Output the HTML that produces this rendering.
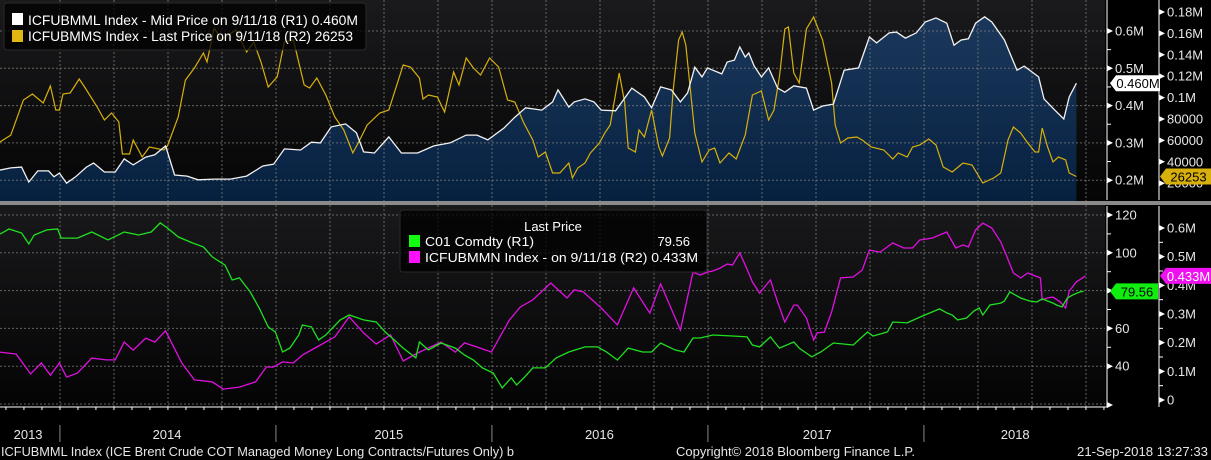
<!DOCTYPE html>
<html><head><meta charset="utf-8"><style>
html,body{margin:0;padding:0;background:#000;}
svg{display:block;font-family:"Liberation Sans Narrow","Liberation Sans",sans-serif;}
</style></head><body>
<svg id="chart" width="1211" height="460" viewBox="0 0 1211 460" xmlns="http://www.w3.org/2000/svg">
<defs>
<linearGradient id="bgTop" x1="0" y1="0" x2="0" y2="1"><stop offset="0" stop-color="#1a1a1c"/><stop offset="1" stop-color="#050506"/></linearGradient>
<linearGradient id="bgBot" x1="0" y1="0" x2="0" y2="1"><stop offset="0" stop-color="#19191b"/><stop offset="1" stop-color="#040405"/></linearGradient>
<linearGradient id="fillTop" x1="0" y1="0" x2="0" y2="1"><stop offset="0" stop-color="#1b385c"/><stop offset="1" stop-color="#06203f"/></linearGradient>
</defs>
<rect x="0" y="0" width="1105" height="201" fill="url(#bgTop)"/>
<rect x="0" y="205" width="1105" height="202" fill="url(#bgBot)"/>
<g id="topArea"></g>
<g id="grid"></g>
<g id="series"></g>
<rect x="0" y="201" width="1211" height="4" fill="#8a8a8a"/>
<g id="axes"></g>
<g id="legendTop">
<rect x="4" y="3" width="362" height="47" rx="3" fill="#000" fill-opacity="0.75" stroke="#2a2a2a"/>
<rect x="12" y="13" width="11" height="12" fill="#ffffff"/>
<text x="28" y="25" font-size="13.5" fill="#ffffff" textLength="330" lengthAdjust="spacingAndGlyphs">ICFUBMML Index - Mid Price on 9/11/18 (R1)   0.460M</text>
<rect x="12" y="30" width="11" height="12" fill="#e0b80f"/>
<text x="28" y="41" font-size="13.5" fill="#ffffff" textLength="325" lengthAdjust="spacingAndGlyphs">ICFUBMMS Index - Last Price on 9/11/18 (R2) 26253</text>
</g>
<g id="legendBot">
<rect x="400" y="210" width="307" height="62" rx="3" fill="#000" fill-opacity="0.75" stroke="#2a2a2a"/>
<text x="553" y="231" font-size="13" fill="#ffffff" text-anchor="middle">Last Price</text>
<rect x="409" y="235" width="11" height="12" fill="#10ff10"/>
<text x="425" y="246" font-size="13" fill="#ffffff" textLength="109" lengthAdjust="spacingAndGlyphs">C01 Comdty  (R1)</text>
<text x="690" y="246" font-size="13" fill="#ffffff" text-anchor="end">79.56</text>
<rect x="409" y="251" width="11" height="12" fill="#ff10ff"/>
<text x="425" y="262" font-size="13" fill="#ffffff" textLength="273" lengthAdjust="spacingAndGlyphs">ICFUBMMN Index -   on 9/11/18  (R2) 0.433M</text>
</g>
<g id="footer"></g>
</svg>
<script>
// ---- data (x = months since 21-Sep-2013) ----
const mlMonths=[0,.6,1.2,1.6,2.1,2.7,3.0,3.3,3.7,4.2,4.8,5.2,5.8,6.4,6.9,7.4,8.1,8.6,9.2,9.7,10.4,11.0,11.9,12.8,13.7,14.6,15.2,15.8,16.7,17.3,17.8,18.4,19.2,19.8,20.2,20.8,21.6,22.3,23.2,24.1,25.0,25.9,26.5,27.1,28.0,28.6,29.2,30.1,30.7,31.0,31.6,31.9,32.5,33.0,33.4,34.2,35.1,35.8,36.2,36.7,37.3,37.8,38.2,38.6,39.0,39.3,40.1,40.4,40.8,41.1,41.4,41.6,41.9,42.3,42.7,43.2,43.6,44.1,44.8,45.2,45.7,46.3,46.9,47.7,48.3,48.7,49.4,49.8,50.3,50.9,51.4,52.0,52.6,53.0,53.4,53.8,54.2,54.7,55.1,55.8,56.5,56.9,57.7,58.0,58.6,59.1,59.4,59.8];
const mlValues=[.227,.233,.235,.195,.225,.225,.209,.219,.192,.209,.235,.246,.222,.222,.257,.241,.262,.268,.292,.214,.211,.201,.203,.203,.211,.238,.243,.284,.281,.302,.300,.343,.351,.327,.276,.273,.316,.273,.273,.292,.300,.321,.321,.308,.340,.369,.394,.388,.410,.442,.396,.410,.418,.410,.388,.386,.447,.423,.394,.450,.442,.410,.434,.503,.477,.501,.485,.517,.522,.557,.530,.541,.506,.477,.501,.447,.436,.453,.447,.388,.399,.404,.495,.501,.584,.568,.595,.597,.581,.595,.624,.635,.621,.562,.576,.579,.621,.638,.624,.576,.495,.506,.477,.418,.388,.364,.423,.460];
const msMonths=[0,.6,1.3,1.8,2.4,2.8,3.1,3.3,3.5,3.9,4.4,4.7,5.4,5.8,6.2,6.6,6.8,7.2,7.4,7.9,8.3,9.1,9.3,9.9,10.3,10.8,11.3,11.5,11.9,12.3,13.1,13.7,14.1,14.5,14.9,15.4,15.8,16.3,16.9,17.2,17.6,18.1,18.6,19.1,19.6,19.9,20.4,21.1,21.6,22.4,22.8,23.3,23.5,23.8,24.3,24.7,25.2,25.5,25.9,26.3,26.7,27.2,27.7,28.2,28.6,29.1,29.6,29.9,30.3,30.7,31.1,31.6,31.8,32.1,32.5,32.8,33.3,33.6,33.9,34.4,34.7,34.9,35.3,35.5,35.8,36.2,36.6,36.8,37.2,37.4,37.7,37.9,38.1,38.6,39.0,39.4,39.7,40.0,40.5,40.9,41.4,41.8,42.3,42.7,43.0,43.3,43.6,43.8,44.1,44.4,44.8,45.2,45.7,46.2,46.4,46.7,47.1,47.6,47.9,48.4,49.1,49.6,49.9,50.4,50.7,51.1,51.6,52.0,52.4,52.9,53.5,54.0,54.6,55.2,55.6,56.0,56.3,56.7,57.1,57.5,57.7,57.9,58.2,58.5,58.8,59.2,59.4,59.8];
const msValues=[58.5,65,97.8,103.4,95,110.8,88.4,88.4,103.4,104.3,117.4,109.9,91.2,79.1,85.6,77.2,47.3,47.3,60.4,44.5,53.8,51,54.8,81.9,116.4,127.7,141.7,133.3,165,153.8,163.2,142.6,152,133.3,109.9,119.3,152,153.8,111.8,109,118.3,102.4,81.9,69.7,48.2,57.6,74.4,85.6,88.4,130.5,128.6,118.3,98.7,102.4,100.6,86.5,123.9,111.8,137,127.7,121.1,137,128.6,97.8,95.9,76.3,60.4,44.5,49.2,29.5,29.5,38.9,24.9,34.2,38.9,48.2,57.6,66.9,74.4,123,95.9,52.9,49.2,69.7,63.2,88.4,53.8,45.4,62.2,107.1,153.8,161.3,149.2,66.9,39.8,51,52.9,38.9,48.2,42.6,65,102.4,106.2,79.1,88.4,119.3,164.1,166,123,113.6,164.1,175.3,153.8,113.6,74.4,57.6,62.2,63.2,60.4,53.8,51,42.6,48.2,44.5,53.8,55.7,61.3,55.7,35.1,30.5,38.9,37,20.2,24.9,29.5,60.4,72.5,66.9,57.6,49.2,49.2,71.6,53.8,39.8,44.5,41.7,29.5,26.253];
const co1Months=[0,.5,1.2,1.6,1.9,2.6,3.2,3.4,4.3,5.1,6.0,6.9,7.7,8.4,8.9,9.3,9.9,10.7,11.3,11.8,12.5,12.9,13.3,13.9,14.4,14.9,15.3,15.7,16.1,16.6,16.8,17.3,17.7,18.1,18.9,19.4,20.2,20.9,21.4,21.9,22.4,23.1,23.3,23.8,24.5,25.3,25.8,26.3,26.8,27.4,27.9,28.4,28.7,29.1,29.6,30.3,30.9,31.6,32.5,33.2,33.7,34.3,34.9,35.7,36.2,36.7,37.5,38.0,38.5,38.9,39.6,40.7,41.5,41.8,42.2,42.8,43.3,44.1,44.4,45.1,45.6,46.3,47.4,48.2,48.5,49.3,49.6,50.4,51.1,52.2,52.6,52.9,53.2,53.7,54.1,54.4,54.6,55.0,55.6,55.8,56.1,56.4,56.7,57.2,57.6,57.9,58.5,58.7,59.0,59.3,59.6,60.0,60.2];
const co1Values=[109.9,112.6,110.5,104.7,109.4,112.1,112.6,107.8,107.8,111,106.8,111,109.4,111,115.8,113.1,108.4,105.2,103.1,97.8,93.5,85.6,86.7,79.3,70.8,60.8,58.1,47.5,49.6,56.5,61.8,60.8,53.9,56.5,64.5,67.1,64.5,63.4,58.1,53.9,49.6,44.4,52.8,48.6,52.3,49.6,45.9,43.3,39.1,36.4,28.5,33.8,30.1,33.8,39.1,39.1,44.4,47.5,50.2,50.2,47.5,43.3,49.6,47.5,47.5,52.3,48.6,47.5,54.9,54.9,56.5,56,55.5,51.2,50.2,55.5,49.6,52.8,49.6,44.9,47.5,52.3,51.2,58.1,56,58.1,63.4,62.9,66,70.3,68.2,67.1,64.5,65.5,69.2,70.8,67.1,72.4,73.4,74.5,79.3,77.7,76.1,74.5,74,75.6,73.4,72.4,71.3,76.1,77.7,79.3,79.56];
const mmnMonths=[0,.9,1.7,2.3,2.8,3.3,3.7,4.3,5.1,5.9,6.4,6.9,7.4,8.1,8.6,9.2,10.1,10.8,11.8,12.4,13.3,14.2,14.8,15.2,15.7,16.3,16.8,17.6,18.6,19.4,20.2,20.9,21.7,22.4,23.2,24.5,25.3,25.8,26.5,27.3,28.3,28.9,29.6,30.6,31.5,31.9,32.4,33.4,34.3,35.2,36.1,36.7,37.8,38.5,38.9,39.3,39.6,40.0,40.4,40.7,41.1,41.4,41.8,42.2,42.8,43.2,43.6,44.1,44.3,44.8,45.2,45.4,45.8,46.2,46.7,47.4,47.9,48.3,48.9,49.6,50.2,50.7,51.1,51.8,52.6,53.1,53.5,53.8,54.2,54.6,55.1,55.6,55.9,56.3,56.7,57.1,57.5,57.8,57.9,58.2,58.5,58.9,59.2,59.4,59.8,60.3];
const mmnValues=[.167,.160,.091,.129,.087,.129,.080,.094,.146,.140,.140,.202,.174,.216,.202,.241,.129,.070,.063,.038,.045,.063,.115,.115,.133,.129,.157,.185,.220,.290,.234,.195,.227,.136,.164,.202,.167,.199,.185,.167,.279,.324,.349,.408,.356,.384,.377,.321,.262,.391,.303,.405,.244,.446,.436,.446,.450,.460,.474,.471,.513,.471,.412,.373,.419,.342,.272,.331,.331,.286,.209,.234,.237,.307,.426,.429,.453,.523,.516,.548,.530,.530,.558,.565,.586,.530,.541,.534,.593,.617,.600,.551,.506,.443,.426,.443,.433,.426,.349,.356,.359,.342,.321,.380,.412,.433];
const topLeftTicks=[0.6,0.5,0.4,0.3,0.2];
const topLeftLabels=["0.6M","0.5M","0.4M","0.3M","0.2M"];
const topRightTicks=[180,160,140,120,100,80,60,40,20];
const topRightLabels=["0.18M","0.16M","0.14M","0.12M","0.1M","80000","60000","40000","20000"];
const botLeftTicks=[120,100,80,60,40];
const botLeftLabels=["120","100","80","60","40"];
const botRightTicks=[0.6,0.5,0.4,0.3,0.2,0.1,0];
const botRightLabels=["0.6M","0.5M","0.4M","0.3M","0.2M","0.1M","0"];
const yearLabels=["2013","2014","2015","2016","2017","2018"];
const yearCenters=[1.56,9.28,21.6,33.3,45.4,56.4];
const yearBounds=[3.33,15.33,27.33,39.33,51.33];

// ---- scales ----
const X=m=>m*18;
const yTL=v=>31+(0.6-v)*373;
const yTR=k=>12+(180-k)*1.07;
const yBL=v=>215+(120-v)*1.89;
const yBR=v=>400-v*286.7;
const NS="http://www.w3.org/2000/svg";
function mk(tag,attrs,parent){const e=document.createElementNS(NS,tag);for(const k in attrs)e.setAttribute(k,attrs[k]);parent.appendChild(e);return e;}
function pts(ms,vs,fy){return ms.map((m,i)=>X(m).toFixed(1)+","+fy(vs[i]).toFixed(1)).join(" ");}

const grid=document.getElementById('grid');
const series=document.getElementById('series');
const axes=document.getElementById('axes');
const topArea=document.getElementById('topArea');
const footer=document.getElementById('footer');

const ap=pts(mlMonths,mlValues,yTL);
const area=mk('polygon',{points:X(mlMonths[0])+",201 "+ap+" "+X(mlMonths[mlMonths.length-1])+",201",fill:"url(#fillTop)"},topArea);



for(let q=0;q<20;q++){const x=60+q*54;if(x>1100)break;
 const g1=mk('line',{x1:x,y1:0,x2:x,y2:201,stroke:"#7a7a7a","stroke-dasharray":"2,2","stroke-width":1,opacity:0.8},grid);
 
 
 const g2=mk('line',{x1:x,y1:205,x2:x,y2:407,stroke:"#7a7a7a","stroke-dasharray":"2,2","stroke-width":1,opacity:0.8},grid);
 
 }
topLeftTicks.forEach(v=>{const g=mk('line',{x1:0,y1:yTL(v),x2:1105,y2:yTL(v),stroke:"#7a7a7a","stroke-dasharray":"2,2",opacity:0.8},grid);
 
 });
[120,100,80,60,40,20].forEach(v=>{const g=mk('line',{x1:0,y1:yBL(v),x2:1105,y2:yBL(v),stroke:"#7a7a7a","stroke-dasharray":"2,2",opacity:0.8},grid);
 
 });

const lMS=mk('polyline',{points:pts(msMonths,msValues,yTR),fill:"none",stroke:"#d8b00c","stroke-width":1.2},series);


const lML=mk('polyline',{points:ap,fill:"none",stroke:"#f2f2f2","stroke-width":1.3},series);


const lMN=mk('polyline',{points:pts(mmnMonths,mmnValues,yBR),fill:"none",stroke:"#e010e0","stroke-width":1.3},series);


const lCO=mk('polyline',{points:pts(co1Months,co1Values,yBL),fill:"none",stroke:"#20e020","stroke-width":1.3},series);



function axisLine(x,y1,y2,name){const l=mk('line',{x1:x,y1:y1,x2:x,y2:y2,stroke:"#fff","stroke-width":1},axes);
 
 }
axisLine(1107,0,200,'top-left-value-axis');
axisLine(1159,0,200,'top-right-value-axis');
axisLine(1107,206,407,'bottom-left-value-axis');
axisLine(1159,206,407,'bottom-right-value-axis');
function ticks(axX,vals,labels,fy,name,minor){
 vals.forEach((v,i)=>{const y=fy(v);
  mk('polygon',{points:`${axX},${y-3} ${axX+6},${y} ${axX},${y+3}`,fill:"#fff"},axes);
  const t=mk('text',{x:axX+8,y:y+4.5,"font-size":13,fill:"#e6e6e6"},axes);t.textContent=labels[i];
  
  
  if(minor&&i<vals.length-1){const ym=(y+fy(vals[i+1]))/2;mk('line',{x1:axX,y1:ym,x2:axX+4,y2:ym,stroke:"#fff"},axes);}
 });}
ticks(1107,topLeftTicks,topLeftLabels,yTL,'top-left-tick-label',true);
ticks(1159,topRightTicks,topRightLabels,yTR,'top-right-tick-label',false);
ticks(1107,botLeftTicks,botLeftLabels,yBL,'bottom-left-tick-label',true);
ticks(1159,botRightTicks,botRightLabels,yBR,'bottom-right-tick-label',true);
mk('polygon',{points:"1107,402 1113,405 1107,408",fill:"#fff"},axes);
function tag(x,y,w,txt,bg,fg,name){
 mk('polygon',{points:`${x},${y} ${x+6},${y-8} ${x+w},${y-8} ${x+w},${y+8} ${x+6},${y+8}`,fill:bg},axes);
 const t=mk('text',{x:x+w/2+3,y:y+5,"font-size":13,fill:fg,"text-anchor":"middle"},axes);t.textContent=txt;
 
 }
tag(1110,yTL(0.460),50,"0.460M","#ffffff","#000",'icfubmml-last-value-tag');
tag(1160,yTR(26.253),51,"26253","#d8b00c","#000",'icfubmms-last-value-tag');
tag(1110,yBL(79.56),48,"79.56","#10ee10","#000",'co1-last-value-tag');
tag(1160,yBR(0.433),51,"0.433M","#ee10ee","#fff",'icfubmmn-last-value-tag');

mk('line',{x1:0,y1:407,x2:1107,y2:407,stroke:"#fff"},axes);
for(let m=0.33;X(m)<1105;m+=1){mk('line',{x1:X(m),y1:407,x2:X(m),y2:410,stroke:"#fff"},axes);}
yearBounds.forEach(m=>{const l=mk('line',{x1:X(m),y1:425,x2:X(m),y2:442,stroke:"#8a8a8a"},axes);
 
 });
yearLabels.forEach((s,i)=>{const t=mk('text',{x:X(yearCenters[i]),y:439,"font-size":13,fill:"#e6e6e6","text-anchor":"middle"},axes);t.textContent=s;
 
 });
const f1=mk('text',{x:1,y:456,"font-size":12.5,fill:"#e6e6e6",textLength:513,lengthAdjust:"spacingAndGlyphs"},footer);
f1.textContent="ICFUBMML Index (ICE Brent Crude COT Managed Money Long Contracts/Futures Only) b";


const f2=mk('text',{x:676,y:456,"font-size":12.5,fill:"#e6e6e6",textLength:239,lengthAdjust:"spacingAndGlyphs"},footer);
f2.textContent="Copyright© 2018 Bloomberg Finance L.P.";


const f3=mk('text',{x:1077,y:456,"font-size":12.5,fill:"#e6e6e6",textLength:131,lengthAdjust:"spacingAndGlyphs"},footer);
f3.textContent="21-Sep-2018 13:27:33";


</script>
</body></html>
